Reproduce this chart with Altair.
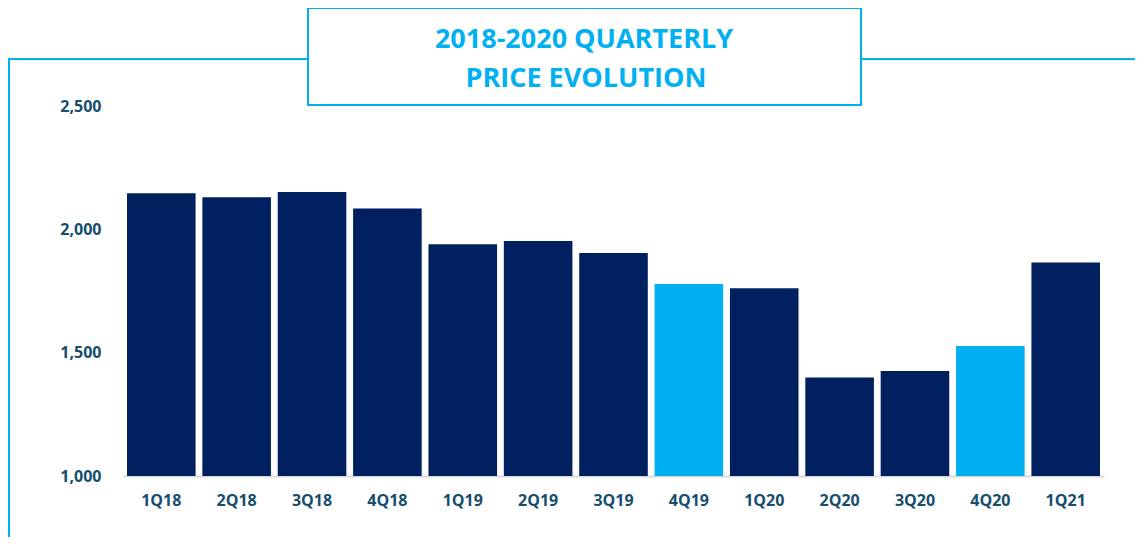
import altair as alt
import pandas as pd

# ---- data ----
quarters = ["1Q18", "2Q18", "3Q18", "4Q18", "1Q19", "2Q19", "3Q19",
            "4Q19", "1Q20", "2Q20", "3Q20", "4Q20", "1Q21"]
prices = [2146, 2130, 2151, 2084, 1940, 1953, 1904,
          1778, 1761, 1399, 1426, 1527, 1866]
highlighted = ["4Q19", "4Q20"]
y_ticks = [1000, 1500, 2000, 2500]
title_lines = ["2018-2020 QUARTERLY", "PRICE EVOLUTION"]

NAVY = "#002060"
CYAN = "#00B0F0"
LABEL = "#164E6E"
FONT = "Open Sans"

df = pd.DataFrame({
    "quarter": quarters,
    "price": prices,
    "group": ["hi" if q in highlighted else "base" for q in quarters],
})
one = pd.DataFrame({"k": [0]})

W, H = 981, 370

bars = alt.Chart(df).mark_bar().encode(
    x=alt.X("quarter:N", sort=quarters, title=None,
            scale=alt.Scale(paddingInner=0.09, paddingOuter=0.053),
            axis=alt.Axis(labelAngle=0, labelFont=FONT, labelFontSize=16,
                          labelFontWeight="bold", labelColor=LABEL,
                          ticks=False, tickSize=0, labelPadding=16,
                          domain=True, domainColor="#D9D9D9", domainWidth=2,
                          grid=False)),
    y=alt.Y("price:Q", title=None,
            scale=alt.Scale(domain=[1000, 2500], zero=False, nice=False),
            axis=alt.Axis(values=y_ticks, format=",.0f", labelFont=FONT,
                          labelFontSize=16, labelFontWeight="bold",
                          labelColor=LABEL, ticks=False, tickSize=0,
                          labelPadding=22, domain=False, grid=False)),
    y2=alt.datum(1000),
    color=alt.Color("group:N", legend=None,
                    scale=alt.Scale(domain=["base", "hi"], range=[NAVY, CYAN])),
)

# frame lines (pixel positions relative to plot area)
left_line = alt.Chart(one).mark_rule(color=CYAN, strokeWidth=2).encode(
    x=alt.value(-114), y=alt.value(-47), y2=alt.value(431))
top_left = alt.Chart(one).mark_rule(color=CYAN, strokeWidth=2).encode(
    x=alt.value(-115), x2=alt.value(185), y=alt.value(-47))
top_right = alt.Chart(one).mark_rule(color=CYAN, strokeWidth=2).encode(
    x=alt.value(738), x2=alt.value(1012), y=alt.value(-47))
box = alt.Chart(one).mark_rect(fill="white", stroke=CYAN, strokeWidth=2).encode(
    x=alt.value(185), x2=alt.value(738), y=alt.value(-98), y2=alt.value(-1))

t1 = alt.Chart(one).mark_text(text=title_lines[0], font=FONT, fontSize=27,
                               fontWeight="bold", color=CYAN, align="center",
                               baseline="middle").encode(
    x=alt.value(461), y=alt.value(-66.5))
t2 = alt.Chart(one).mark_text(text=title_lines[1], font=FONT, fontSize=27,
                               fontWeight="bold", color=CYAN, align="center",
                               baseline="middle").encode(
    x=alt.value(463), y=alt.value(-27.5))

chart = alt.layer(bars, left_line, top_left, top_right, box, t1, t2).properties(
    width=W, height=H,
    autosize=alt.AutoSizeParams(type="none"),
    padding={"left": 115, "top": 98, "right": 31, "bottom": 61},
    background="white",
).configure_view(stroke=None)

chart.save("out.html", embed_options={"renderer": "svg", "actions": False})
